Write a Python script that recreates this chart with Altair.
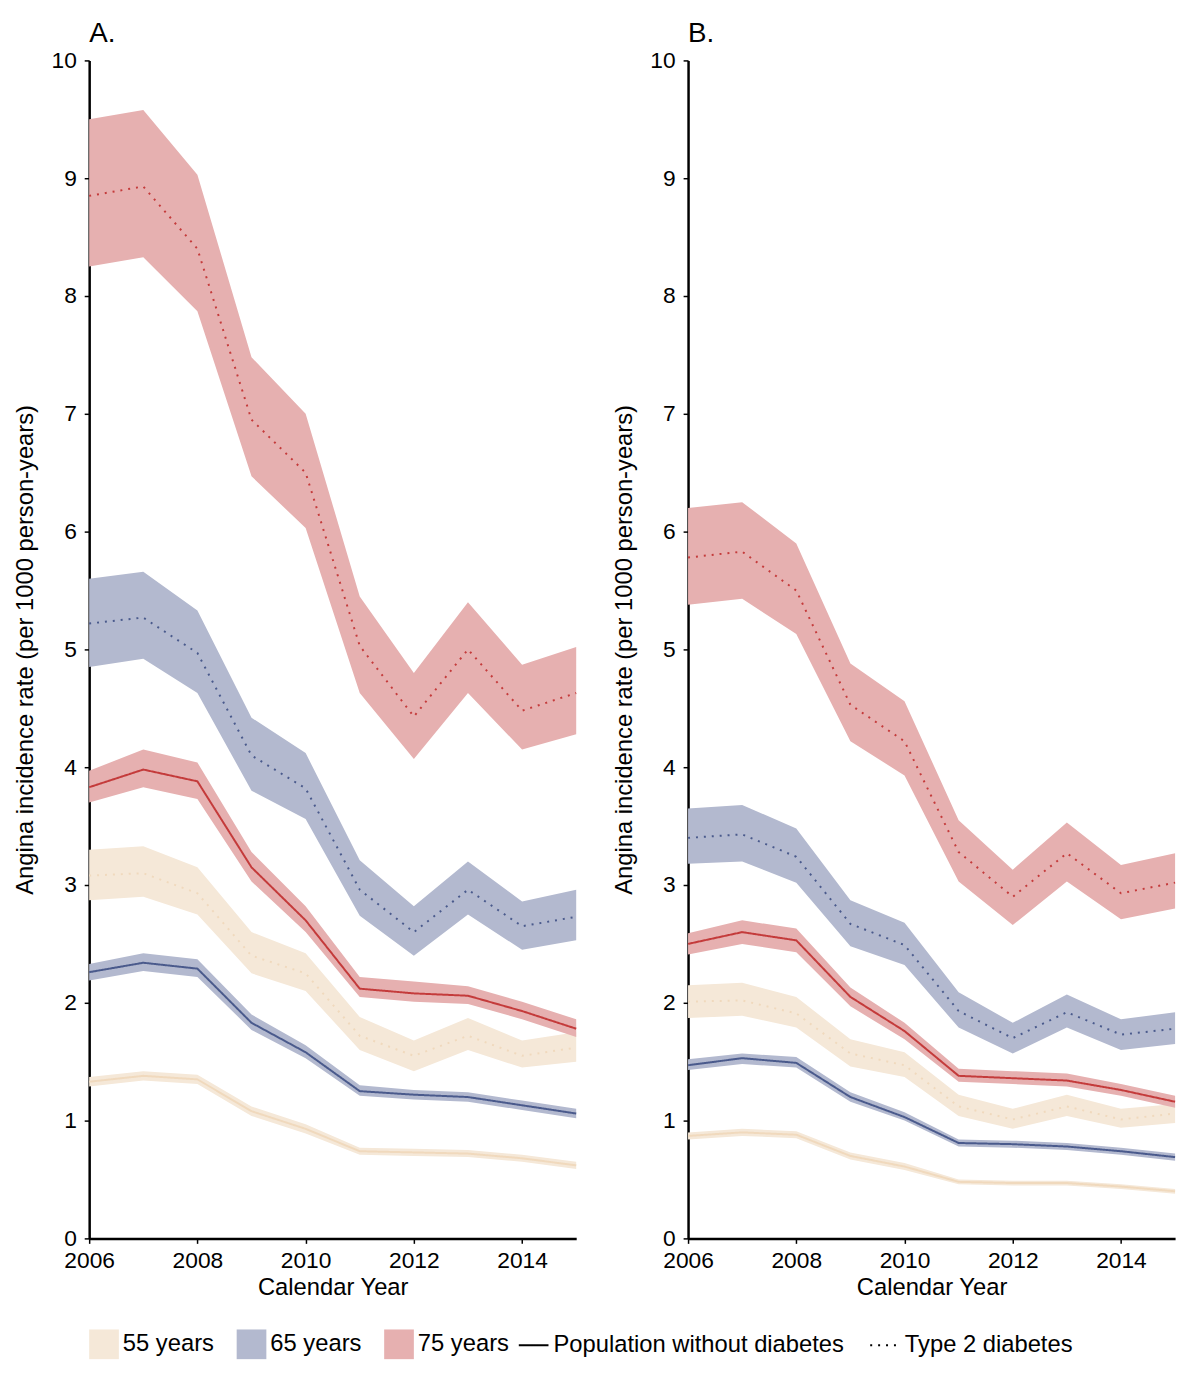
import altair as alt
import pandas as pd

years = list(range(2006, 2016))
ages = ["55 years", "65 years", "75 years"]
groups = ["Population without diabetes", "Type 2 diabetes"]

# Panel A
A = {
 ("75 years","Type 2 diabetes"): ([8.85,8.93,8.4,6.95,6.5,5.03,4.43,5.0,4.48,4.63],
   [8.25,8.33,7.87,6.47,6.03,4.63,4.07,4.63,4.15,4.28],[9.5,9.58,9.03,7.48,7.0,5.45,4.8,5.4,4.87,5.02]),
 ("65 years","Type 2 diabetes"): ([5.22,5.27,4.97,4.1,3.82,2.96,2.6,2.96,2.65,2.73],
   [4.85,4.92,4.63,3.8,3.56,2.74,2.4,2.75,2.45,2.53],[5.6,5.66,5.33,4.42,4.12,3.21,2.82,3.2,2.86,2.96]),
 ("55 years","Type 2 diabetes"): ([3.08,3.1,2.93,2.4,2.25,1.72,1.55,1.72,1.55,1.62],
   [2.87,2.9,2.75,2.25,2.1,1.6,1.42,1.6,1.45,1.5],[3.3,3.33,3.15,2.6,2.42,1.88,1.68,1.87,1.68,1.75]),
 ("75 years","Population without diabetes"): ([3.83,3.98,3.88,3.15,2.7,2.12,2.08,2.06,1.93,1.78],
   [3.7,3.83,3.73,3.03,2.6,2.05,2.01,1.99,1.86,1.71],[3.97,4.15,4.04,3.28,2.82,2.22,2.18,2.14,2.01,1.86]),
 ("65 years","Population without diabetes"): ([2.26,2.34,2.29,1.83,1.58,1.25,1.22,1.2,1.13,1.06],
   [2.19,2.27,2.22,1.77,1.53,1.21,1.18,1.16,1.09,1.02],[2.33,2.42,2.37,1.9,1.64,1.3,1.26,1.24,1.17,1.1]),
 ("55 years","Population without diabetes"): ([1.33,1.38,1.35,1.08,0.93,0.74,0.73,0.72,0.68,0.62],
   [1.29,1.34,1.31,1.04,0.89,0.71,0.7,0.69,0.65,0.59],[1.37,1.42,1.39,1.12,0.97,0.77,0.76,0.75,0.71,0.65]),
}
B = {
 ("75 years","Type 2 diabetes"): ([5.78,5.83,5.5,4.53,4.22,3.28,2.9,3.27,2.93,3.02],
   [5.38,5.43,5.13,4.22,3.93,3.03,2.66,3.03,2.71,2.8],[6.2,6.25,5.9,4.88,4.56,3.55,3.13,3.53,3.17,3.27]),
 ("65 years","Type 2 diabetes"): ([3.4,3.43,3.24,2.67,2.49,1.93,1.7,1.92,1.73,1.78],
   [3.18,3.2,3.02,2.48,2.32,1.79,1.57,1.79,1.6,1.65],[3.65,3.68,3.48,2.87,2.68,2.09,1.83,2.07,1.86,1.92]),
 ("55 years","Type 2 diabetes"): ([2.01,2.02,1.91,1.57,1.47,1.12,1.01,1.12,1.01,1.06],
   [1.87,1.89,1.79,1.46,1.37,1.04,0.93,1.04,0.94,0.98],[2.15,2.17,2.05,1.69,1.58,1.22,1.1,1.22,1.1,1.14]),
 ("75 years","Population without diabetes"): ([2.5,2.6,2.53,2.05,1.76,1.38,1.36,1.34,1.26,1.16],
   [2.41,2.5,2.43,1.97,1.69,1.33,1.31,1.29,1.21,1.11],[2.59,2.7,2.63,2.13,1.83,1.44,1.42,1.4,1.31,1.21]),
 ("65 years","Population without diabetes"): ([1.47,1.53,1.49,1.2,1.03,0.81,0.8,0.78,0.74,0.69],
   [1.43,1.48,1.45,1.16,1.0,0.78,0.77,0.75,0.71,0.66],[1.52,1.57,1.54,1.24,1.07,0.84,0.83,0.81,0.77,0.72]),
 ("55 years","Population without diabetes"): ([0.87,0.9,0.88,0.7,0.61,0.48,0.47,0.47,0.44,0.4],
   [0.84,0.87,0.85,0.67,0.58,0.46,0.45,0.45,0.42,0.38],[0.9,0.93,0.91,0.73,0.64,0.5,0.49,0.49,0.46,0.42]),
}

band_colors = ["#f5e8d8", "#b3b9cf", "#e6b0b0"]
line_colors = ["#f0d9bd", "#4a5a8c", "#c43b3b"]

def frame(d):
    rows = []
    for (age, grp), (m, lo, hi) in d.items():
        for i, y in enumerate(years):
            rows.append(dict(age=age, group=grp, year=y, rate=m[i], lo=lo[i], hi=hi[i]))
    return pd.DataFrame(rows)

def panel(d, title):
    df = frame(d)
    base = alt.Chart(df)
    x = alt.X("year:Q", title="Calendar Year", scale=alt.Scale(domain=[2006, 2015], nice=False),
              axis=alt.Axis(values=[2006, 2008, 2010, 2012, 2014], format="d", labelPadding=6, titlePadding=4))
    band = base.mark_area(opacity=1).encode(
        x=x,
        y=alt.Y("lo:Q", title="Angina incidence rate (per 1000 person-years)",
                scale=alt.Scale(domain=[0, 10], nice=False),
                axis=alt.Axis(values=list(range(11)), format="d", labelPadding=8, titlePadding=14)),
        y2="hi:Q",
        color=alt.Color("age:N", scale=alt.Scale(domain=ages, range=band_colors),
                        legend=alt.Legend(title=None, symbolType="square", symbolSize=900,
                                          symbolStrokeWidth=0, direction="horizontal")),
        detail="group:N",
    )
    line = base.mark_line(strokeWidth=2).encode(
        x=x, y="rate:Q",
        stroke=alt.Stroke("age:N", scale=alt.Scale(domain=ages, range=line_colors), legend=None),
        strokeDash=alt.StrokeDash("group:N", scale=alt.Scale(domain=groups, range=[[1, 0], [2, 6]]),
                                  legend=alt.Legend(title=None, symbolType="stroke", symbolStrokeColor="black",
                                                    symbolSize=900, symbolStrokeWidth=2,
                                                    direction="horizontal")),
    )
    return alt.layer(band, line).properties(
        width=492, height=1190,
        title=alt.TitleParams(title, anchor="start", frame="group", fontSize=28, fontWeight="normal", offset=2),
    )

chart = alt.hconcat(panel(A, "A."), panel(B, "B."), spacing=32).configure(
    font="Liberation Sans"
).configure_view(stroke=None).configure_axis(
    grid=False, domainColor="black", domainWidth=2.5, tickColor="black", tickWidth=1.5,
    labelFontSize=23, titleFontSize=24, labelColor="black", titleColor="black", titleFontWeight="normal",
    labelFlush=False,
).configure_legend(orient="bottom", labelFontSize=24, labelColor="black", columnPadding=22,
                   labelLimit=0, offset=30).configure_title(color="black")

chart.save("out.html", embed_options={"renderer": "svg", "actions": False})
